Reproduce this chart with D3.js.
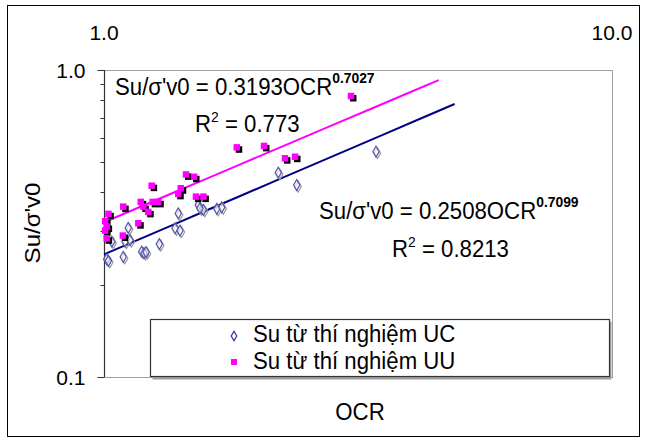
<!DOCTYPE html>
<html>
<head>
<meta charset="utf-8">
<script src="https://cdn.jsdelivr.net/npm/d3@7"></script>
<style>
  html, body { margin: 0; padding: 0; background: #fff; }
  svg { display: block; }
  text { font-family: "Liberation Sans", Arial, sans-serif; fill: #000; }
</style>
</head>
<body>
<svg id="chart" width="645" height="441"></svg>
<script>
// ---- data ----
const ucOCR = [2.203, 2.395, 1.533, 1.569, 1.667, 1.705, 1.400, 1.380, 1.411, 1.116, 1.100, 1.125, 1.036, 1.285, 1.186, 1.199, 1.091, 1.012, 1.020, 3.431, 1.545, 1.210];
const ucSu  = [0.463, 0.422, 0.363, 0.350, 0.353, 0.357, 0.341, 0.305, 0.300, 0.306, 0.276, 0.279, 0.276, 0.271, 0.256, 0.253, 0.246, 0.242, 0.239, 0.542, 0.354, 0.255];
const uuOCR = [1.825, 2.065, 2.271, 2.377, 1.450, 1.504, 1.241, 1.416, 1.400, 1.517, 1.569, 1.181, 1.247, 1.279, 1.195, 1.091, 1.222, 1.020, 1.005, 1.168, 1.012, 1.005, 1.089, 1.012, 3.063];
const uuSu  = [0.560, 0.566, 0.516, 0.522, 0.457, 0.449, 0.420, 0.412, 0.395, 0.387, 0.387, 0.372, 0.372, 0.372, 0.359, 0.359, 0.345, 0.340, 0.322, 0.317, 0.309, 0.300, 0.289, 0.283, 0.823];
// power trend lines: Su = a * OCR^b
const uuFit = { a: 0.3193, b: 0.7027, from: 1.0, to: 4.56 };
const ucFit = { a: 0.2508, b: 0.7099, from: 1.0, to: 4.90 };
const xTickLabels = ["1.0", "10.0"];
const xTickValues = [1, 10];
const yTickLabels = ["1.0", "0.1"];
const yTickValues = [1, 0.1];
const yMinorValues = [0.2, 0.3, 0.4, 0.5, 0.6, 0.7, 0.8, 0.9];
const legendLabels = ["Su từ thí nghiệm UC", "Su từ thí nghiệm UU"];

// ---- layout ----
const svg = d3.select("#chart");
const FONT = 24;
const SX = 0.925;   // text in the reference is slightly condensed horizontally
const x = d3.scaleLog().domain([1, 10]).range([104, 612]);
const y = d3.scaleLog().domain([0.1, 1]).range([377, 70]);

function ctext(xp, yp, size, anchor) {
  return svg.append("text")
    .attr("transform", `translate(${xp},${yp}) scale(${SX},1)`)
    .attr("font-size", size).attr("text-anchor", anchor || "start");
}

// outer border
svg.append("rect").attr("x", 7.5).attr("y", 5.5).attr("width", 632).attr("height", 431)
  .attr("fill", "#fff").attr("stroke", "#000").attr("stroke-width", 1);

// plot area border
svg.append("rect").attr("x", x(1) + 0.5).attr("y", y(1) + 0.5)
  .attr("width", x(10) - x(1)).attr("height", y(0.1) - y(1))
  .attr("fill", "#fff").attr("stroke", "#a0a0a0").attr("stroke-width", 1);

// y axis
const yAxisG = svg.append("g").attr("transform", `translate(${x(1) + 0.5},0)`);
yAxisG.append("line").attr("x1", 0).attr("x2", 0).attr("y1", y(1)).attr("y2", y(0.1))
  .attr("stroke", "#333").attr("stroke-width", 1.2);
yAxisG.selectAll("line.minor").data(yMinorValues).join("line").attr("class", "minor")
  .attr("x1", -4).attr("x2", 0).attr("y1", d => Math.round(y(d)) + 0.5).attr("y2", d => Math.round(y(d)) + 0.5)
  .attr("stroke", "#333");
yAxisG.selectAll("line.major").data(yTickValues).join("line").attr("class", "major")
  .attr("x1", -7).attr("x2", 0).attr("y1", d => Math.round(y(d)) + 0.5).attr("y2", d => Math.round(y(d)) + 0.5)
  .attr("stroke", "#333");
yAxisG.selectAll("text").data(yTickValues).join("text")
  .attr("x", -19).attr("y", d => y(d) + 8)
  .attr("text-anchor", "end").attr("font-size", 21)
  .text((d, i) => yTickLabels[i]);

// x axis labels (top)
svg.selectAll("text.xtick").data(xTickValues).join("text").attr("class", "xtick")
  .attr("x", d => x(d)).attr("y", 40)
  .attr("text-anchor", "middle").attr("font-size", 21)
  .text((d, i) => xTickLabels[i]);

// axis titles
svg.append("text").attr("transform", `translate(40,223) rotate(-90) scale(1,${SX})`)
  .attr("text-anchor", "middle").attr("font-size", FONT).text("Su/σ'v0");
ctext(360, 420, FONT, "middle").text("OCR");

// trend lines
function fitLine(f, color) {
  const pts = d3.range(0, 11).map(i => {
    const o = Math.pow(10, Math.log10(f.from) + (Math.log10(f.to) - Math.log10(f.from)) * i / 10);
    return [o, f.a * Math.pow(o, f.b)];
  });
  svg.append("path").datum(pts)
    .attr("d", d3.line().x(d => x(d[0])).y(d => y(d[1])))
    .attr("fill", "none").attr("stroke", color).attr("stroke-width", 2);
}
fitLine(ucFit, "#000080");
fitLine(uuFit, "#ff00ff");

// UC diamonds
const dia = d3.symbol().type(d3.symbolDiamond).size(34);
const ucData = ucOCR.map((o, i) => [o, ucSu[i]]);
svg.append("g").selectAll("path").data(ucData).join("path")
  .attr("d", dia).attr("transform", d => `translate(${x(d[0]) + 1.5},${y(d[1]) + 1.5})`)
  .attr("fill", "none").attr("stroke", "#9a9a9a").attr("stroke-width", 1.2);
svg.append("g").selectAll("path").data(ucData).join("path")
  .attr("d", dia).attr("transform", d => `translate(${x(d[0])},${y(d[1])})`)
  .attr("fill", "#fff").attr("fill-opacity", 0.6).attr("stroke", "#5555aa").attr("stroke-width", 1.2);

// UU squares with black shadow
const uuData = uuOCR.map((o, i) => [o, uuSu[i]]);
svg.append("g").selectAll("rect").data(uuData).join("rect")
  .attr("x", d => x(d[0]) - 1).attr("y", d => y(d[1]) - 1).attr("width", 6.5).attr("height", 6.5)
  .attr("fill", "#000");
svg.append("g").selectAll("rect").data(uuData).join("rect")
  .attr("x", d => x(d[0]) - 3.2).attr("y", d => y(d[1]) - 3.2).attr("width", 6.5).attr("height", 6.5)
  .attr("fill", "#ff00ff");

// equations
function eq(xp, yp, main, sup) {
  const t = ctext(xp, yp, FONT);
  t.append("tspan").text(main);
  t.append("tspan").attr("dy", -12).attr("font-size", 15).attr("font-weight", "bold").text(sup);
}
function r2(xp, yp, val) {
  const t = ctext(xp, yp, FONT);
  t.append("tspan").text("R");
  t.append("tspan").attr("dy", -10).attr("font-size", 15).text("2");
  t.append("tspan").attr("dy", 10).text(" = " + val);
}
eq(115, 95, "Su/σ'v0 = 0.3193OCR", "0.7027");
r2(195, 132, "0.773");
eq(319, 219, "Su/σ'v0 = 0.2508OCR", "0.7099");
r2(392, 257, "0.8213");

// legend
svg.append("rect").attr("x", 152.5).attr("y", 321.5).attr("width", 459).attr("height", 58)
  .attr("fill", "#a0a0a0");
svg.append("rect").attr("x", 150.5).attr("y", 319.5).attr("width", 459).attr("height", 57)
  .attr("fill", "#fff").attr("stroke", "#333").attr("stroke-width", 1.2);
svg.append("path").attr("d", d3.symbol().type(d3.symbolDiamond).size(26))
  .attr("transform", "translate(234,336)").attr("fill", "#fff").attr("stroke", "#333399").attr("stroke-width", 1.2);
svg.append("rect").attr("x", 231).attr("y", 359).attr("width", 6).attr("height", 6).attr("fill", "#ff00ff");
legendLabels.forEach((d, i) => ctext(253, 342 + i * 27, 23 / SX * 0.97 > 24 ? 24 : 23).text(d));
</script>
</body>
</html>
